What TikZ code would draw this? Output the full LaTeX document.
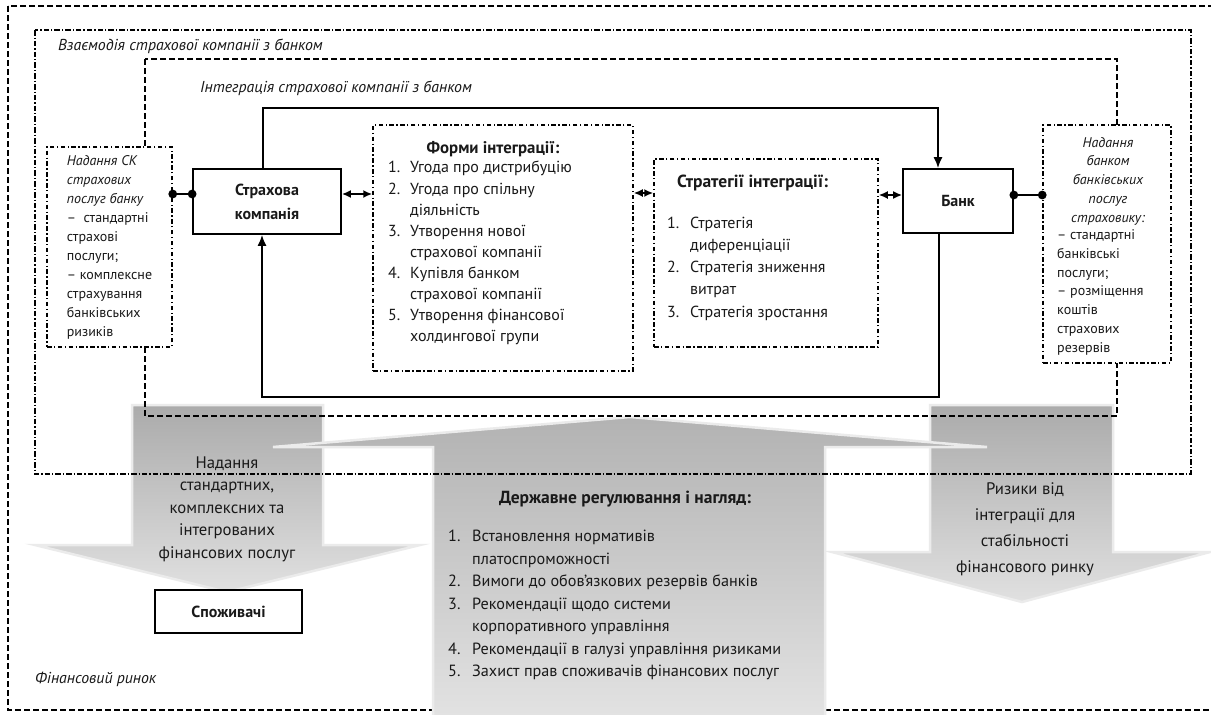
\documentclass[tikz,border=0pt]{standalone}
\usepackage{fontspec}
\setmainfont{PT Sans}
\usetikzlibrary{arrows.meta,calc}
\begin{document}
\begin{tikzpicture}[x=1pt,y=-1pt,
  every node/.style={inner sep=0pt, text=black!90},
  txt/.style={font=\fontsize{14}{19}\selectfont},
  mainbox/.style={draw, line width=1.7pt, fill=white, font=\fontsize{16}{24}\selectfont\bfseries, align=center},
  dbox/.style={draw, line width=1.5pt, fill=white, dash pattern=on 4.5pt off 2.5pt on 1.3pt off 2.5pt},
  outerdash/.style={draw, line width=1.2pt, dash pattern=on 6pt off 3pt},
  intdash/.style={draw, line width=1.2pt, dash pattern=on 6pt off 3pt},
  vzdash/.style={draw, line width=1.2pt, dash pattern=on 5.5pt off 2pt on 1.3pt off 2pt},
  loopline/.style={draw, line width=1.3pt},
  darrow/.style={line width=2.4pt, {Latex[length=9pt,width=8pt]}-{Latex[length=9pt,width=8pt]}},
  larrow/.style={line width=1.7pt, -{Latex[length=11pt,width=9pt]}},
  dotline/.style={line width=2.2pt},
  grayarrow/.style={top color=gray!66, bottom color=gray!24, draw=gray!16, line width=2.5pt},
  grayarrowm/.style={top color=gray!60, bottom color=gray!22, draw=gray!16, line width=2.5pt},
]
\useasboundingbox (0,0) rectangle (1211,715);
\fill[white] (0,0) rectangle (1211,715);
% outer market frame
\draw[outerdash] (8,6) rectangle (1230,710);
% big gray arrows
\shade[grayarrow] (132,405) -- (323,405) -- (323,545) -- (420,545) -- (227,592) -- (35,545) -- (132,545) -- cycle;
\shade[grayarrow] (930,405) -- (1113,405) -- (1113,552) -- (1210,552) -- (1022,602) -- (832,552) -- (930,552) -- cycle;
\shade[grayarrowm] (433,722) -- (433,447) -- (273,447) -- (630,417) -- (987,447) -- (825,447) -- (825,722) -- cycle;
% frames
\draw[vzdash] (35,30) rectangle (1191,474);
\draw[intdash] (145,59) rectangle (1117,416);
% frame labels
\node[font=\fontsize{15.8}{19}\selectfont\itshape, anchor=base west] (lblvz) at (58,50) {Взаємодія страхової компанії з банком};
\node[font=\fontsize{15.8}{19}\selectfont\itshape, anchor=base west] (lblint) at (200,92) {Інтеграція страхової компанії з банком};
\node[font=\fontsize{15.8}{19}\selectfont\itshape, anchor=base west] (lblfr) at (35,683) {Фінансовий ринок};
% main nodes
\node[mainbox, minimum width=148pt, minimum height=65pt] (sk) at (267,201.5) {Страхова\\компанія};
\node[mainbox, minimum width=110pt, minimum height=64pt] (bank) at (958,201) {Банк};
\node[mainbox, minimum width=147pt, minimum height=43pt] (cons) at (228.5,611.5) {Споживачі};
% side boxes
\node[dbox, txt, minimum width=125pt, minimum height=200pt, align=left] (ns) at (109.5,247)
 {\textit{Надання СК}\\\textit{страхових}\\\textit{послуг банку}\\–\ \ стандартні\\страхові\\послуги;\\– комплексне\\страхування\\банківських\\ризиків};
\node[dbox, minimum width=128pt, minimum height=238pt] (nb) at (1107,244) {};
\node[font=\fontsize{14}{18.7}\selectfont\itshape, align=center, anchor=base] (nbit) at (1108,222) {Надання\\банком\\банківських\\послуг\\страховику:};
\node[font=\fontsize{14}{18.7}\selectfont, align=left, anchor=base west] (nbrg) at (1057,352) {– стандартні\\банківські\\послуги;\\– розміщення\\коштів\\страхових\\резервів};
% forms box
\node[dbox, minimum width=260pt, minimum height=246pt] (forms) at (503,248) {};
\node[font=\fontsize{16.8}{21}\selectfont\bfseries, anchor=base] (formshead) at (493,153) {Форми інтеграції:};
\node[font=\fontsize{16}{21.1}\selectfont, anchor=north west] (formslist) at (388,158)
 {\begin{tabular}{@{}p{22pt}@{}l@{}}
 1. & Угода про дистрибуцію\\
 2. & Угода про спільну\\
    & діяльність\\
 3. & Утворення нової\\
    & страхової компанії\\
 4. & Купівля банком\\
    & страхової компанії\\
 5. & Утворення фінансової\\
    & холдингової групи
 \end{tabular}};
% strategies box
\node[dbox, minimum width=224pt, minimum height=188pt] (strat) at (766,253) {};
\node[font=\fontsize{17.5}{21}\selectfont\bfseries, anchor=base west] (strathead) at (677,187) {Стратегії інтеграції:};
\node[font=\fontsize{16}{22.2}\selectfont, anchor=north west] (stratlist) at (667,212.5)
 {\begin{tabular}{@{}p{23pt}@{}l@{}}
 1. & Стратегія\\
    & диференціації\\
 2. & Стратегія зниження\\
    & витрат\\
 3. & Стратегія зростання
 \end{tabular}};
% loop connectors
\coordinate (c1) at (263,108);
\coordinate (c2) at (938,108);
\coordinate (c3) at (939,397);
\coordinate (c4) at (262,397);
\draw[loopline, larrow] (sk.north -| c1) -- (c1) -- (c2) -- (bank.north -| c2);
\draw[loopline, larrow] (bank.south -| c3) -- (c3) -- (c4) -- (sk.south -| c4);
% double arrows
\draw[darrow] ([yshift=7.5pt]sk.east) -- ([yshift=7.5pt]sk.east -| forms.west);
\draw[darrow] ([yshift=8.5pt]sk.east -| forms.east) -- ([yshift=8.5pt]sk.east -| strat.west);
\draw[darrow] ([yshift=6pt]bank.west -| strat.east) -- ([yshift=6pt]bank.west);
% dot connectors
\draw[dotline] ([yshift=7.5pt]sk.west) -- ([yshift=7.5pt]sk.west -| ns.east);
\fill ([yshift=7.5pt]sk.west) circle (4.4pt);
\fill ([yshift=7.5pt]sk.west -| ns.east) circle (4.4pt);
\draw[dotline] ([yshift=6pt]bank.east) -- ([yshift=6pt]bank.east -| nb.west);
\fill ([yshift=6pt]bank.east) circle (4.4pt);
\fill ([yshift=6pt]bank.east -| nb.west) circle (4.4pt);
% arrow texts
\node[font=\fontsize{16.7}{22.5}\selectfont, align=center, anchor=base] (txtleft) at (227,558) {Надання\\стандартних,\\комплексних та\\інтегрованих\\фінансових послуг};
\node[font=\fontsize{16.7}{25.7}\selectfont, align=center, anchor=base] (txtright) at (1025,572) {Ризики від\\інтеграції для\\стабільності\\фінансового ринку};
\node[font=\fontsize{17.5}{21}\selectfont\bfseries, anchor=base] (dhead) at (625,503) {Державне регулювання і нагляд:};
\node[font=\fontsize{16.2}{22.5}\selectfont, anchor=north west] (dlist) at (448,526)
 {\begin{tabular}{@{}p{24pt}@{}l@{}}
 1. & Встановлення нормативів\\
    & платоспроможності\\
 2. & Вимоги до обов’язкових резервів банків\\
 3. & Рекомендації щодо системи\\
    & корпоративного управління\\
 4. & Рекомендації в галузі управління ризиками\\
 5. & Захист прав споживачів фінансових послуг
 \end{tabular}};
\end{tikzpicture}
\end{document}
